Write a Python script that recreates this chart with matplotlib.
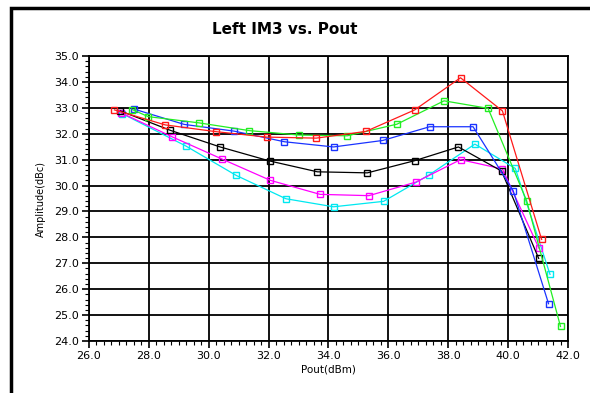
import matplotlib.pyplot as plt
from matplotlib.ticker import MultipleLocator
from matplotlib.patches import Rectangle

# Pout (dBm) / Left IM3 (dBc) for each curve
red_x = [26.85, 28.55, 30.24, 31.94, 33.59, 35.25, 36.88, 38.41, 39.81, 41.12]
red_y = [32.92, 32.34, 32.08, 31.87, 31.83, 32.09, 32.92, 34.16, 32.88, 27.92]

green_x = [27.45, 27.98, 29.67, 31.36, 33.01, 34.63, 36.29, 37.86, 39.33, 40.62, 41.75]
green_y = [32.93, 32.66, 32.42, 32.12, 31.95, 31.92, 32.37, 33.27, 32.98, 29.41, 24.56]

blue_x = [27.51, 29.18, 30.85, 32.53, 34.17, 35.81, 37.38, 38.83, 40.17, 41.35]
blue_y = [32.95, 32.36, 32.10, 31.69, 31.49, 31.74, 32.27, 32.27, 29.80, 25.44]

black_x = [27.05, 28.72, 30.38, 32.03, 33.63, 35.30, 36.88, 38.34, 39.78, 41.02]
black_y = [32.88, 32.13, 31.49, 30.95, 30.53, 30.49, 30.96, 31.49, 30.56, 27.19]

magenta_x = [27.07, 28.78, 30.43, 32.06, 33.72, 35.35, 36.91, 38.41, 39.81, 41.03]
magenta_y = [32.81, 31.88, 31.03, 30.20, 29.66, 29.61, 30.13, 31.00, 30.64, 27.58]

cyan_x = [27.10, 29.23, 30.92, 32.58, 34.17, 35.84, 37.36, 38.89, 40.24, 41.40]
cyan_y = [32.78, 31.53, 30.39, 29.49, 29.18, 29.39, 30.41, 31.60, 30.66, 26.57]

series = [
    (cyan_x, cyan_y, "#00e8f0"),
    (magenta_x, magenta_y, "#ff00ff"),
    (black_x, black_y, "#000000"),
    (blue_x, blue_y, "#1a33ff"),
    (green_x, green_y, "#22ee22"),
    (red_x, red_y, "#ff1a1a"),
]

fig = plt.figure(figsize=(5.9, 3.93), dpi=100)
ax = fig.add_axes([0.1508, 0.1323, 0.8119, 0.7252])

for xs, ys, c in series:
    ax.plot(xs, ys, color=c, lw=0.9, marker="s", ms=4.6,
            mfc="none", mec=c, mew=1.0)

ax.set_xlim(26, 42)
ax.set_ylim(24, 35)
ax.xaxis.set_major_locator(MultipleLocator(2))
ax.xaxis.set_minor_locator(MultipleLocator(0.25))
ax.yaxis.set_major_locator(MultipleLocator(1))
ax.yaxis.set_minor_locator(MultipleLocator(0.2))
ax.xaxis.set_major_formatter(plt.FormatStrFormatter("%.1f"))
ax.yaxis.set_major_formatter(plt.FormatStrFormatter("%.1f"))
ax.tick_params(which="major", direction="out", length=5, width=1.2,
               labelsize=8, pad=2)
ax.tick_params(which="minor", direction="out", length=3, width=0.8)
ax.grid(True, which="major", color="black", lw=1.3)
for s in ax.spines.values():
    s.set_linewidth(1.3)

ax.set_xlabel("Pout(dBm)", fontsize=7.5, labelpad=3)
ax.set_ylabel("Amplitude(dBc)", fontsize=7, labelpad=6)
fig.text(0.483, 0.925, "Left IM3 vs. Pout", ha="center", va="center",
         fontsize=11, fontweight="bold")

# outer window frame
fig.patches.append(Rectangle((0.018, -0.2), 1.2, 1.18, transform=fig.transFigure,
                             fill=False, edgecolor="black", lw=2.5))

fig.savefig("out.png", dpi=100)
